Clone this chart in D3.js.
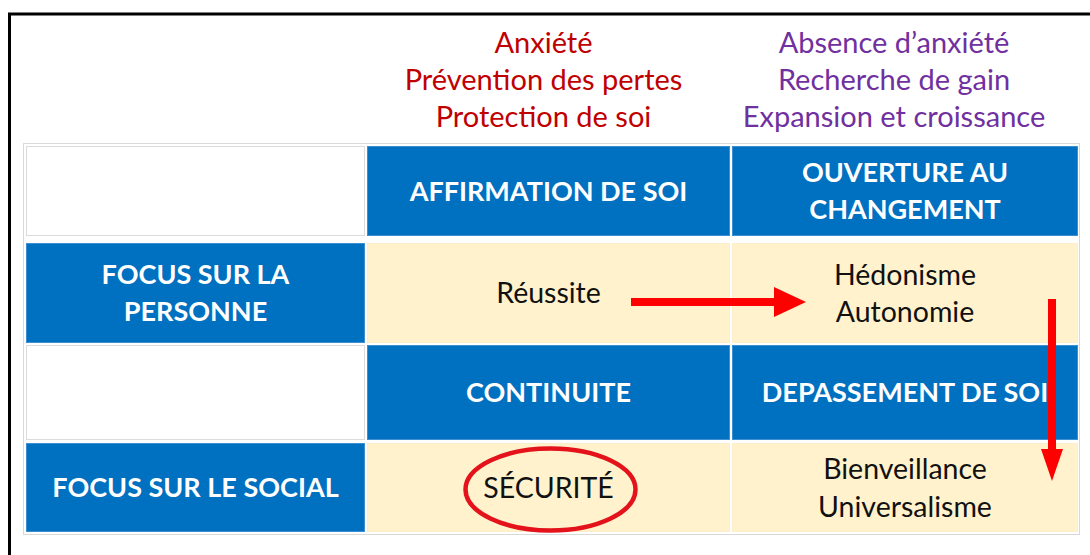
<!DOCTYPE html>
<html><head><meta charset="utf-8">
<script src="https://cdn.jsdelivr.net/npm/d3@7"></script>
<style>body{margin:0;background:#fff;overflow:hidden}</style>
</head><body><svg id="c" width="1090" height="555"></svg>
<script>
// ---- data ----
const columns = ["label", "affirmation", "ouverture"];
const rows = ["entete1", "personne", "entete2", "social"];
const notesLeft = ["Anxiété", "Prévention des pertes", "Protection de soi"];
const notesRight = ["Absence d’anxiété", "Recherche de gain", "Expansion et croissance"];
const cellKinds = [
  ["blank", "header", "header"],
  ["rowhead", "value", "value"],
  ["blank", "header", "header"],
  ["rowhead", "value", "value"]
];
const cellTexts = [
  [[], ["AFFIRMATION DE SOI"], ["OUVERTURE AU", "CHANGEMENT"]],
  [["FOCUS SUR LA", "PERSONNE"], ["Réussite"], ["Hédonisme", "Autonomie"]],
  [[], ["CONTINUITE"], ["DEPASSEMENT DE SOI"]],
  [["FOCUS SUR LE SOCIAL"], ["SÉCURITÉ"], ["Bienveillance", "Universalisme"]]
];
const highlighted = [["social", "affirmation"]];

// ---- layout ----
const svg = d3.select("#c");
const W = 1090, H = 555;
const FONT = "Lato, 'Open Sans', sans-serif";
const LH = 37.5;

const x = d3.scaleOrdinal().domain(columns).range([26, 367, 732]);
const w = d3.scaleOrdinal().domain(columns).range([339, 363, 346]);
const y = d3.scaleOrdinal().domain(rows).range([146, 243, 345, 443]);
const h = d3.scaleOrdinal().domain(rows).range([90, 100, 95, 89]);

const fill = {blank: "#ffffff", header: "#0070C0", rowhead: "#0070C0", value: "#FFF2CC"};
const stroke = {blank: "#dcdcdc", header: "#3d8fd1", rowhead: "#3d8fd1", value: "#fbeec8"};
const textColor = {header: "#ffffff", rowhead: "#ffffff", value: "#111111"};
const weight = {header: 700, rowhead: 700, value: 400};
const fsize = {header: 27, rowhead: 27, value: 28.5};

// outer frame (cropped black border)
svg.append("path").attr("d", `M9.5,${H} V14 H${W}`).attr("fill", "none")
  .attr("stroke", "#000").attr("stroke-width", 3);

// table outer border
svg.append("rect").attr("x", 23.5).attr("y", 143.5).attr("width", 1056).attr("height", 391)
  .attr("fill", "#fff").attr("stroke", "#d9d9d9").attr("stroke-width", 1);

// cells
const cells = [];
rows.forEach((r, i) => columns.forEach((c, j) => cells.push({r, c, kind: cellKinds[i][j], lines: cellTexts[i][j]})));

const g = svg.selectAll("g.cell").data(cells).join("g").attr("class", "cell");
g.append("rect")
  .attr("x", d => x(d.c) + 0.5).attr("y", d => y(d.r) + 0.5)
  .attr("width", d => w(d.c) - 1).attr("height", d => h(d.r) - 1)
  .attr("fill", d => fill[d.kind]).attr("stroke", d => stroke[d.kind]).attr("stroke-width", 1);

g.each(function(d) {
  const n = d.lines.length;
  const cx = x(d.c) + w(d.c) / 2;
  const cy = y(d.r) + h(d.r) / 2;
  d3.select(this).selectAll("text").data(d.lines).join("text")
    .attr("x", cx)
    .attr("y", (t, k) => cy + (k - (n - 1) / 2) * LH)
    .attr("dy", "0.36em")
    .attr("text-anchor", "middle")
    .attr("font-family", FONT).attr("font-size", fsize[d.kind])
    .attr("font-weight", weight[d.kind])
    .attr("fill", textColor[d.kind])
    .text(t => t);
});

// top notes
function notes(lines, col, color) {
  svg.append("g").selectAll("text").data(lines).join("text")
    .attr("x", x(col) + w(col) / 2 + (col === "affirmation" ? -5 : -11))
    .attr("y", (t, k) => 43 + k * 37)
    .attr("dy", "0.36em").attr("text-anchor", "middle")
    .attr("font-family", FONT).attr("font-size", 29).attr("fill", color)
    .text(t => t);
}
notes(notesLeft, "affirmation", "#C00000");
notes(notesRight, "ouverture", "#7030A0");

// highlight ellipse
highlighted.forEach(([r, c]) => {
  svg.append("ellipse")
    .attr("cx", x(c) + w(c) / 2 + 2).attr("cy", y(r) + h(r) / 2 + 2)
    .attr("rx", 85).attr("ry", 41)
    .attr("fill", "none").attr("stroke", "#E3121B").attr("stroke-width", 4.5);
});

// arrows
const RED = "#FF0000";
const line = d3.line();
// horizontal: from Réussite toward Hédonisme
{
  const yc = y("personne") + h("personne") / 2 + 9;
  const x0 = x("affirmation") + 264, x1 = x("ouverture") + 74;
  svg.append("path").attr("fill", RED).attr("d", line([
    [x0, yc - 4], [x1 - 32, yc - 4], [x1 - 32, yc - 15], [x1, yc],
    [x1 - 32, yc + 15], [x1 - 32, yc + 4], [x0, yc + 4]
  ]) + "Z");
}
// vertical: from Ouverture row down to Dépassement row
{
  const xc = x("ouverture") + 320;
  const y0 = y("personne") + 56, y1 = y("social") + 38;
  svg.append("path").attr("fill", RED).attr("d", line([
    [xc - 4, y0], [xc + 4, y0], [xc + 4, y1 - 32], [xc + 11, y1 - 32], [xc, y1],
    [xc - 11, y1 - 32], [xc - 4, y1 - 32]
  ]) + "Z");
}
</script></body></html>
